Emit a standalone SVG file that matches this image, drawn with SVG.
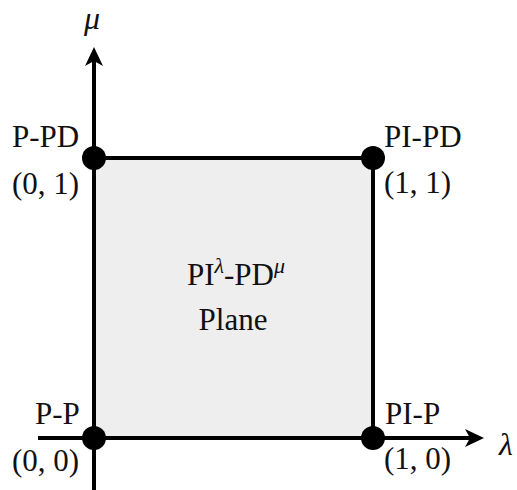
<svg xmlns="http://www.w3.org/2000/svg" width="517" height="490" viewBox="0 0 517 490">
<style>
.t{font-family:"Liberation Serif","Times New Roman",serif;font-size:31px;fill:#111}
.m{font-family:"Liberation Serif","Times New Roman",serif;font-style:italic;fill:#111}
.ln{stroke:#000;stroke-width:4;fill:none}
.dot{fill:#000}
</style>
<defs>
<path id="ah" d="M0,0 L-19,-9 L-14,0 L-19,9 Z" fill="#000"/>
</defs>
<g id="plane">
<rect x="94" y="158" width="279" height="280" fill="#eeeeee"/>
<text class="t" x="236" y="285" text-anchor="middle">PI<tspan class="m" font-size="22" dy="-12">λ</tspan><tspan dy="12">-PD</tspan><tspan class="m" font-size="22" dy="-12">μ</tspan></text>
<text class="t" x="233" y="330" text-anchor="middle">Plane</text>
</g>
<g id="connectors">
<line class="ln" x1="94" y1="158" x2="373" y2="158"/>
<line class="ln" x1="373" y1="158" x2="373" y2="438"/>
<line class="ln" x1="94" y1="490" x2="94" y2="55"/>
<line class="ln" x1="38" y1="438" x2="476" y2="438"/>
<use href="#ah" transform="translate(94,47) rotate(-90)"/>
<use href="#ah" transform="translate(484,438)"/>
</g>
<g id="axis-labels">
<text class="m" x="92" y="29" font-size="32" text-anchor="middle">μ</text>
<text class="m" x="506" y="455" font-size="32" text-anchor="middle">λ</text>
</g>
<g id="node-pp">
<circle class="dot" cx="94" cy="438" r="12"/>
<text class="t" x="35" y="424">P-P</text>
<text class="t" x="12" y="471">(0, 0)</text>
</g>
<g id="node-ppd">
<circle class="dot" cx="94" cy="158" r="12"/>
<text class="t" x="12" y="147">P-PD</text>
<text class="t" x="12" y="194">(0, 1)</text>
</g>
<g id="node-pipd">
<circle class="dot" cx="373" cy="158" r="12"/>
<text class="t" x="384" y="147">PI-PD</text>
<text class="t" x="384" y="193">(1, 1)</text>
</g>
<g id="node-pip">
<circle class="dot" cx="373" cy="438" r="12"/>
<text class="t" x="385" y="424">PI-P</text>
<text class="t" x="384" y="469">(1, 0)</text>
</g>
</svg>
